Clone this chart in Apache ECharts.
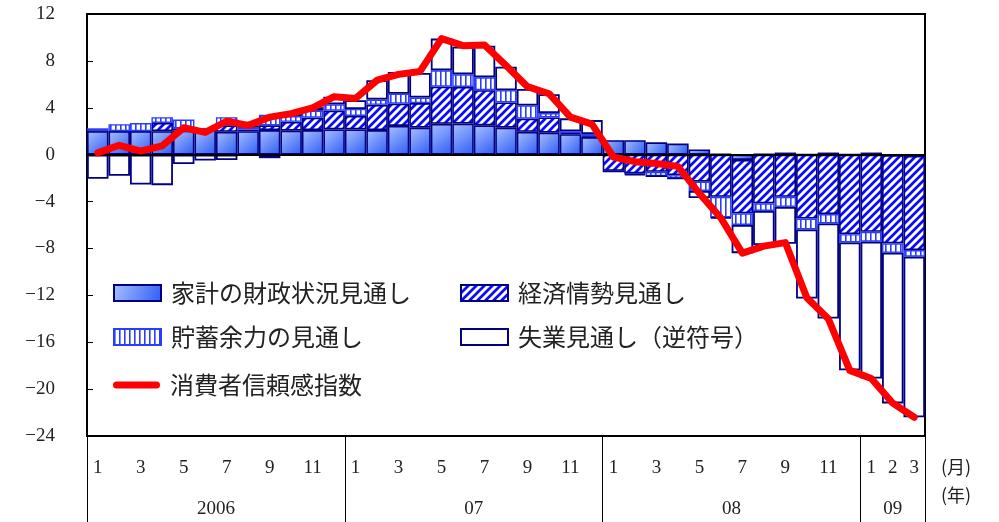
<!DOCTYPE html>
<html>
<head>
<meta charset="utf-8">
<script src="https://cdn.jsdelivr.net/npm/echarts@6/dist/echarts.min.js"></script>
<style>
html,body{margin:0;padding:0;background:#fff;}
#c{width:999px;height:522px;}
</style>
</head>
<body>
<div id="c"></div>
<script>
// ---- data ----
const categories = [
  '2006/1','2006/2','2006/3','2006/4','2006/5','2006/6','2006/7','2006/8','2006/9','2006/10','2006/11','2006/12',
  '2007/1','2007/2','2007/3','2007/4','2007/5','2007/6','2007/7','2007/8','2007/9','2007/10','2007/11','2007/12',
  '2008/1','2008/2','2008/3','2008/4','2008/5','2008/6','2008/7','2008/8','2008/9','2008/10','2008/11','2008/12',
  '2009/1','2009/2','2009/3'
];
const yearLabels = ['2006', '07', '08', '09'];
const yearCenters = [6, 18, 30, 37.5];
const yearBounds = [0, 12, 24, 36, 39];

const household = [
  2.0, 2.0, 2.0, 2.0, 2.05, 2.15, 1.95, 2.0, 2.1, 2.05, 2.1, 2.15,
  2.15, 2.1, 2.45, 2.3, 2.63, 2.65, 2.5, 2.3, 1.95, 1.88, 1.75, 1.5,
  1.24, 1.24, 1.05, 0.95, 0.45, 0.05, -0.45, 0.05, 0.18, 0, 0.18, 0,
  0.18, -0.05, -0.1
];
const economy = [
  0.05, 0, 0, 0.7, 0.2, 0.05, 0.55, 0.15, 0.4, 0.75, 1.05, 1.6,
  1.15, 2.15, 1.9, 2.1, 3.17, 3.13, 3.0, 2.15, 1.13, 1.3, 0.1, 0.05,
  -1.38, -1.6, -1.46, -1.75, -2.3, -3.6, -4.55, -4.15, -3.6, -5.45, -5.07, -6.78,
  -6.58, -7.52, -8.04
];
const savings = [
  0.2, 0.6, 0.7, 0.5, 0.75, 0.05, 0.7, 0.15, 0.9, 0.5, 0.6, 0.55,
  0.6, 0.45, 0.85, 0.47, 1.4, 1.07, 1.1, 1.05, 1.12, 0.37, 0.15, 0.2,
  -0.05, -0.05, -0.37, -0.28, -0.8, -1.75, -1.0, -0.65, -0.85, -0.93, -0.8, -0.71,
  -0.85, -0.8, -0.56
];
const unemployment = [
  -2.05, -1.8, -2.55, -2.6, -0.8, -0.5, -0.45, 0.2, -0.3, 0.3, 0.3, 0.65,
  0.75, 1.65, 1.85, 2.1, 2.7, 2.35, 2.7, 2.0, 1.4, 1.6, 1.1, 1.2,
  0, -0.1, 0, 0, -0.6, -0.1, -2.4, -2.92, -3.15, -5.9, -8.1, -10.9,
  -11.67, -12.85, -13.7
];
const confidence = [
  0.15, 0.8, 0.3, 0.75, 2.3, 1.9, 2.85, 2.5, 3.2, 3.5, 4.0, 4.95,
  4.8, 6.35, 6.85, 7.1, 9.9, 9.3, 9.35, 7.6, 5.8, 5.2, 3.2, 2.6,
  -0.2, -0.6, -0.75, -1.0, -3.3, -5.4, -8.4, -7.8, -7.5, -12.2, -14.0, -18.4,
  -19.1, -21.2, -22.4
];
const names = ['家計の財政状況見通し', '経済情勢見通し', '貯蓄余力の見通し', '失業見通し（逆符号）', '消費者信頼感指数'];

// ---- patterns ----
function hatchCanvas() {
  const s = 8, c = document.createElement('canvas');
  c.width = s; c.height = s;
  const g = c.getContext('2d');
  g.fillStyle = '#ffffff'; g.fillRect(0, 0, s, s);
  g.strokeStyle = '#0a0aff'; g.lineWidth = 2.7; g.lineCap = 'square';
  g.beginPath();
  g.moveTo(0, s); g.lineTo(s, 0);
  g.moveTo(-2, 2); g.lineTo(2, -2);
  g.moveTo(s - 2, s + 2); g.lineTo(s + 2, s - 2);
  g.stroke();
  return c;
}
function vstripeCanvas() {
  const w = 5, h = 10, c = document.createElement('canvas');
  c.width = w; c.height = h;
  const g = c.getContext('2d');
  g.fillStyle = '#ffffff'; g.fillRect(0, 0, w, h);
  g.fillStyle = '#2a3cff'; g.fillRect(0, 0, 1.6, h);
  return c;
}
const hatch = { image: hatchCanvas(), repeat: 'repeat' };
const vstripe = { image: vstripeCanvas(), repeat: 'repeat' };
const grad = new echarts.graphic.LinearGradient(0, 0, 1, 1, [
  { offset: 0, color: '#a9c0ff' },
  { offset: 1, color: '#2d5cf5' }
]);

const navy = '#000080';
const serifNum = '"Liberation Serif", "DejaVu Serif", serif';
const jp = '"Noto Sans CJK JP", "Noto Sans", sans-serif';

function barSeries(name, data, itemStyle, extra) {
  return Object.assign({
    name: name, type: 'bar', stack: 'total', data: data,
    barCategoryGap: '0%', barGap: '0%',
    itemStyle: itemStyle, emphasis: { disabled: true }, animation: false
  }, extra || {});
}

const chart = echarts.init(document.getElementById('c'), null, { renderer: 'canvas' });

function legendAt(name, left, top, extra) {
  return Object.assign({
    data: [name], left: left, top: top, orient: 'horizontal', padding: 0,
    itemWidth: 47, itemHeight: 16, icon: 'rect', selectedMode: false,
    textStyle: { fontFamily: jp, fontSize: 24, color: '#222', padding: [0, 0, 0, 5] }
  }, extra || {});
}

const option = {
  backgroundColor: '#ffffff',
  animation: false,
  grid: { left: 87, right: 74, top: 14, bottom: 86, show: true, borderColor: '#000', borderWidth: 2, backgroundColor: 'transparent' },
  legend: [
    legendAt(names[0], 113, 281),
    legendAt(names[1], 460, 281),
    legendAt(names[2], 113, 325),
    legendAt(names[3], 460, 325),
    legendAt(names[4], 113, 373, {
      icon: 'path://M3.5,0 L43.5,0 A3.5,3.5 0 0 1 43.5,7 L3.5,7 A3.5,3.5 0 0 1 3.5,0 Z',
      itemHeight: 7,
      itemStyle: { color: '#ff0000', borderWidth: 0 },
      lineStyle: { width: 0, opacity: 0 }
    })
  ],
  xAxis: [
    {
      type: 'category', data: categories, position: 'bottom', gridIndex: 0,
      axisLine: { show: true, onZero: false, lineStyle: { color: '#000', width: 2 } },
      axisTick: { show: false },
      axisLabel: {
        interval: function (i) { const m = parseInt(categories[i].split('/')[1], 10); return i >= 36 || m % 2 === 1; },
        formatter: function (v) { return v.split('/')[1]; },
        margin: 23, fontFamily: serifNum, fontSize: 19, color: '#222'
      },
      splitLine: { show: false }
    },
    {
      type: 'value', min: 0, max: 39, position: 'bottom', gridIndex: 0,
      axisLine: { show: false, onZero: false },
      axisTick: { show: true, customValues: yearBounds, length: 86, lineStyle: { color: '#000', width: 1 } },
      axisLabel: {
        customValues: yearCenters,
        formatter: function (v) { const k = yearCenters.indexOf(v); return k >= 0 ? yearLabels[k] : ''; },
        margin: 64, fontFamily: serifNum, fontSize: 19, color: '#222'
      },
      splitLine: { show: false }
    }
  ],
  yAxis: {
    type: 'value', min: -24, max: 12, interval: 4,
    axisLine: { show: true, lineStyle: { color: '#000', width: 2 } },
    axisTick: { show: true, inside: true, length: 6, lineStyle: { color: '#000', width: 1 } },
    axisLabel: {
      margin: 32, fontFamily: serifNum, fontSize: 19, color: '#222',
      formatter: function (v) { return v < 0 ? '\u2212' + (-v) : String(v); }
    },
    splitLine: { show: false }
  },
  graphic: [
    { type: 'text', left: 941, top: 458, style: { text: '(月)', font: '18px ' + jp, fill: '#222' } },
    { type: 'text', left: 941, top: 486, style: { text: '(年)', font: '18px ' + jp, fill: '#222' } }
  ],
  series: [
    barSeries(names[0], household, { color: grad, borderColor: navy, borderWidth: 1.6 }, {
      markLine: {
        silent: true, symbol: 'none', animation: false,
        label: { show: false },
        lineStyle: { color: '#000', width: 2, type: 'solid' },
        data: [{ yAxis: 0 }]
      }
    }),
    barSeries(names[1], economy, { color: hatch, borderColor: navy, borderWidth: 1.6 }),
    barSeries(names[2], savings, { color: vstripe, borderColor: '#2a3cff', borderWidth: 1.4 }),
    barSeries(names[3], unemployment, { color: '#ffffff', borderColor: navy, borderWidth: 1.8 }),
    {
      name: names[4], type: 'line', data: confidence, symbol: 'none', z: 10,
      lineStyle: { color: '#ff0000', width: 7, cap: 'round', join: 'round' },
      itemStyle: { color: '#ff0000' },
      emphasis: { disabled: true }, animation: false
    }
  ]
};
chart.setOption(option);
</script>
</body>
</html>
